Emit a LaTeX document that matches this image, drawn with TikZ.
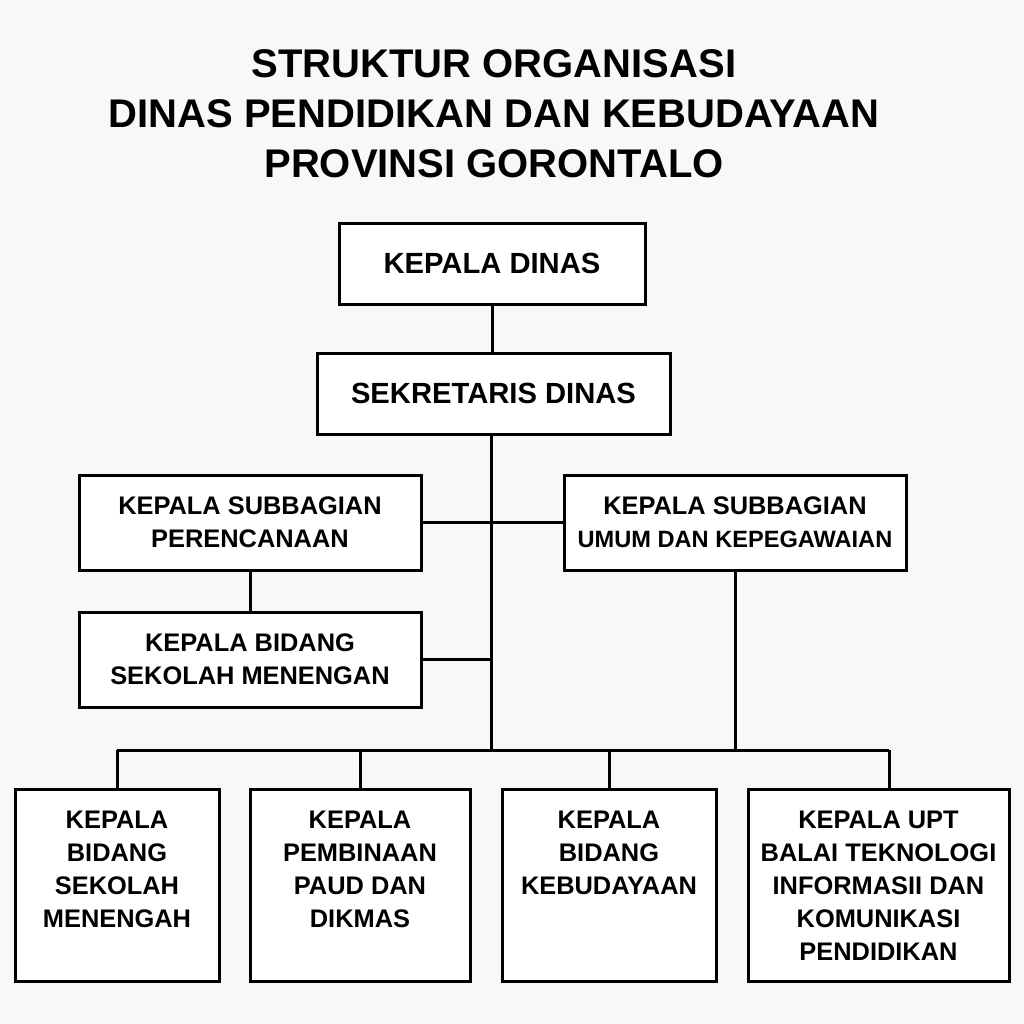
\documentclass[tikz,border=0pt]{standalone}
\usepackage{fontspec}
\setmainfont{Liberation Sans}
\usetikzlibrary{positioning,calc}
\definecolor{paper}{HTML}{F8F8F8}
\newcommand{\unittext}[2]{\parbox[c][74pt][t]{#1}{\centering #2}}

\begin{document}
\begin{tikzpicture} [x=0.5pt, y=-0.5pt, line width=1.5pt,
          box/.style={draw, fill=white, inner sep=0, align=center,
            font=\bfseries\fontsize{12.7}{16.5}\selectfont},
          headbox/.style={box, minimum width=#1, minimum height=40.5pt,
            font=\bfseries\fontsize{14.6}{17}\selectfont},
          subbox/.style={box, minimum width=171pt, minimum height=47.5pt},
          unitbox/.style={box, minimum width=#1, minimum height=96pt}]
          \useasboundingbox[fill=paper] (0,0) rectangle (1024,1024);
          % judul
          \node[align=center, font=\bfseries\fontsize{20}{25}\selectfont]
            (title) at (494,114) {STRUKTUR ORGANISASI\\
            DINAS PENDIDIKAN DAN KEBUDAYAAN\\ PROVINSI GORONTALO};
          % pimpinan
          \node[headbox=153pt] (kadis) at (492,263.5) {KEPALA DINAS};
          \node[headbox=176.5pt] (sekdis) at (493.5,393.5) {SEKRETARIS DINAS};
          % subbagian
          \node[subbox] (perenc) at (250,522.5) {KEPALA SUBBAGIAN\\ PERENCANAAN};
          \node[subbox, font=\bfseries\fontsize{11.8}{16.5}\selectfont] (umum) at (735,522.5)
            {\fontsize{12.7}{16.5}\selectfont KEPALA SUBBAGIAN\\ UMUM DAN KEPEGAWAIAN};
          \node[subbox] (sma) at (250,659.5) {KEPALA BIDANG\\ SEKOLAH MENENGAN};
          % bidang dan upt
          \node[unitbox=102pt] (u1) at (117,885)
            {\unittext{98pt}{KEPALA\\ BIDANG\\ SEKOLAH\\ MENENGAH}};
          \node[unitbox=110pt] (u2) at (360,885)
            {\unittext{104pt}{KEPALA\\ PEMBINAAN\\ PAUD DAN\\ DIKMAS}};
          \node[unitbox=107pt] (u3) at (609,885)
            {\unittext{102pt}{KEPALA\\ BIDANG\\ KEBUDAYAAN}};
          \node[unitbox=130.5pt] (u4) at (878.5,885)
            {\unittext{126pt}{KEPALA UPT\\ BALAI TEKNOLOGI\\ INFORMASII DAN\\ KOMUNIKASI\\ PENDIDIKAN}};
          \coordinate (bus) at (491,750);
          \coordinate (u4top) at ([xshift=5.25pt]u4.north);
          % garis
          \draw (kadis.south) -- (kadis.south |- sekdis.north);
          \draw (bus |- sekdis.south) -- (bus);
          \draw (perenc.east) -- (umum.west);
          \draw (perenc.south) -- (sma.north);
          \draw (sma.east) -- (sma.east -| bus);
          \draw (umum.south) -- (umum.south |- bus);
          \draw (u1.north |- bus) -- (u4top |- bus);
          \foreach \u in {u1,u2,u3} \draw (\u.north) -- (\u.north |- bus);
          \draw (u4top) -- (u4top |- bus);
        \end{tikzpicture}
\end{document}
